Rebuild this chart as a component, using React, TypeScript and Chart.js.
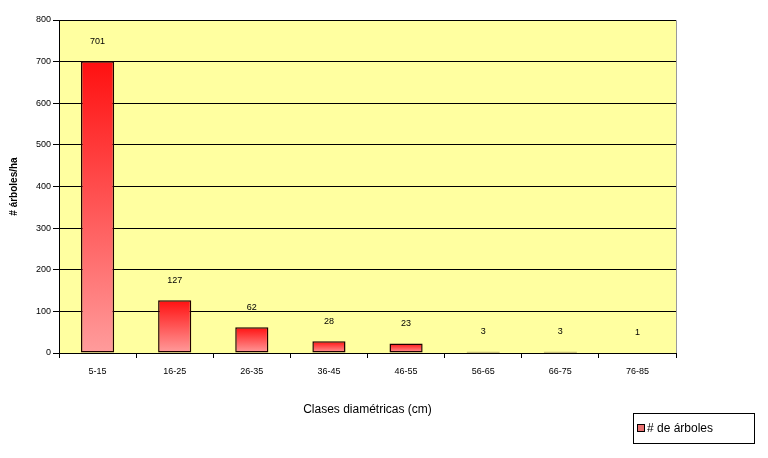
import React, { useEffect, useRef } from "react";
import { Chart, registerables } from "chart.js";

Chart.register(...registerables);

const categories = ["5-15", "16-25", "26-35", "36-45", "46-55", "56-65", "66-75", "76-85"];
const treeCounts = [701, 127, 62, 28, 23, 3, 3, 1];
const seriesName = "# de árboles";
const xTitle = "Clases diamétricas (cm)";
const yTitle = "# árboles/ha";
const yMin = 0;
const yMax = 800;
const yStep = 100;

const FONT = "'Liberation Sans', Arial, sans-serif";

const plotBackground = {
  id: "plotBackground",
  beforeDraw(chart: any) {
    const { ctx, chartArea: a } = chart;
    if (!a) return;
    ctx.save();
    ctx.fillStyle = "#FFFFA0";
    ctx.fillRect(a.left, a.top, a.right - a.left, a.bottom - a.top);
    ctx.strokeStyle = "#9a9a9a";
    ctx.lineWidth = 1;
    ctx.beginPath();
    ctx.moveTo(a.left, a.top + 0.5);
    ctx.lineTo(a.right + 0.5, a.top + 0.5);
    ctx.lineTo(a.right + 0.5, a.bottom);
    ctx.stroke();
    ctx.restore();
  },
};

const valueLabels = {
  id: "valueLabels",
  afterDatasetsDraw(chart: any) {
    const { ctx } = chart;
    const meta = chart.getDatasetMeta(0);
    ctx.save();
    ctx.font = `9px ${FONT}`;
    ctx.fillStyle = "#000";
    ctx.textAlign = "center";
    ctx.textBaseline = "middle";
    meta.data.forEach((bar: any, i: number) => {
      ctx.fillText(String(treeCounts[i]), bar.x, bar.y - 20);
    });
    ctx.restore();
  },
};

const boxedLegend = {
  id: "boxedLegend",
  afterDraw(chart: any) {
    const { ctx } = chart;
    const x = 633, y = 413, w = 121, h = 30;
    ctx.save();
    ctx.fillStyle = "#fff";
    ctx.fillRect(x, y, w, h);
    ctx.strokeStyle = "#000";
    ctx.lineWidth = 1;
    ctx.strokeRect(x + 0.5, y + 0.5, w, h);
    ctx.fillStyle = "#E87070";
    ctx.fillRect(x + 4.5, y + 11.5, 7, 7);
    ctx.strokeRect(x + 4.5, y + 11.5, 7, 7);
    ctx.fillStyle = "#000";
    ctx.font = `12px ${FONT}`;
    ctx.textBaseline = "middle";
    ctx.textAlign = "left";
    ctx.fillText(chart.data.datasets[0].label, x + 14, y + h / 2 + 1);
    ctx.restore();
  },
};

function barGradient(context: any) {
  const chart = context.chart;
  const y = chart.scales?.y;
  if (!y || !chart.chartArea || context.dataIndex === undefined) return "#FF4040";
  const v = context.dataset.data[context.dataIndex];
  const top = y.getPixelForValue(v);
  const bottom = y.getPixelForValue(0);
  if (!isFinite(top) || !isFinite(bottom) || bottom - top < 1) return "#FF2020";
  const g = chart.ctx.createLinearGradient(0, top, 0, bottom);
  g.addColorStop(0, "#FF1010");
  g.addColorStop(1, "#FF9C9C");
  return g;
}

export default function App() {
  const canvasRef = useRef<HTMLCanvasElement | null>(null);

  useEffect(() => {
    if (!canvasRef.current) return;
    const chart = new Chart(canvasRef.current, {
      type: "bar",
      data: {
        labels: categories,
        datasets: [
          {
            label: seriesName,
            data: treeCounts,
            backgroundColor: barGradient,
            borderColor: "#200000",
            borderWidth: 1.5,
            borderSkipped: false,
            barPercentage: 0.43,
            categoryPercentage: 1,
          },
        ],
      },
      options: {
        responsive: false,
        animation: false,
        layout: { padding: { left: 0, top: 20, right: 92, bottom: 0 } },
        plugins: {
          legend: { display: false },
          tooltip: { enabled: false },
        },
        scales: {
          x: {
            afterFit(scale: any) {
              scale.height = 105;
            },
            grid: {
              drawOnChartArea: false,
              color: "#000",
              tickLength: 5,
              offset: true,
            },
            border: { color: "#000", width: 1 },
            ticks: {
              color: "#000",
              font: { family: FONT, size: 9 },
              padding: 8,
              maxRotation: 0,
            },
            title: {
              display: true,
              text: xTitle,
              color: "#000",
              font: { family: FONT, size: 12 },
              padding: { top: 0, bottom: 41 },
            },
          },
          y: {
            min: yMin,
            max: yMax,
            afterFit(scale: any) {
              scale.width = 59;
            },
            grid: {
              color: "#000",
              lineWidth: 1,
              tickLength: 6,
            },
            border: { color: "#000", width: 1 },
            ticks: {
              stepSize: yStep,
              color: "#000",
              font: { family: FONT, size: 9 },
              padding: 2,
            },
            title: {
              display: true,
              text: yTitle,
              color: "#000",
              font: { family: FONT, size: 10, weight: "bold" },
              padding: { top: 8, bottom: 0 },
            },
          },
        },
      },
      plugins: [plotBackground, valueLabels, boxedLegend],
    });
    return () => chart.destroy();
  }, []);

  return (
    <div style={{ position: "absolute", left: 0, top: 0, width: 768, height: 458, background: "#fff" }}>
      <canvas ref={canvasRef} width={768} height={458} />
    </div>
  );
}
